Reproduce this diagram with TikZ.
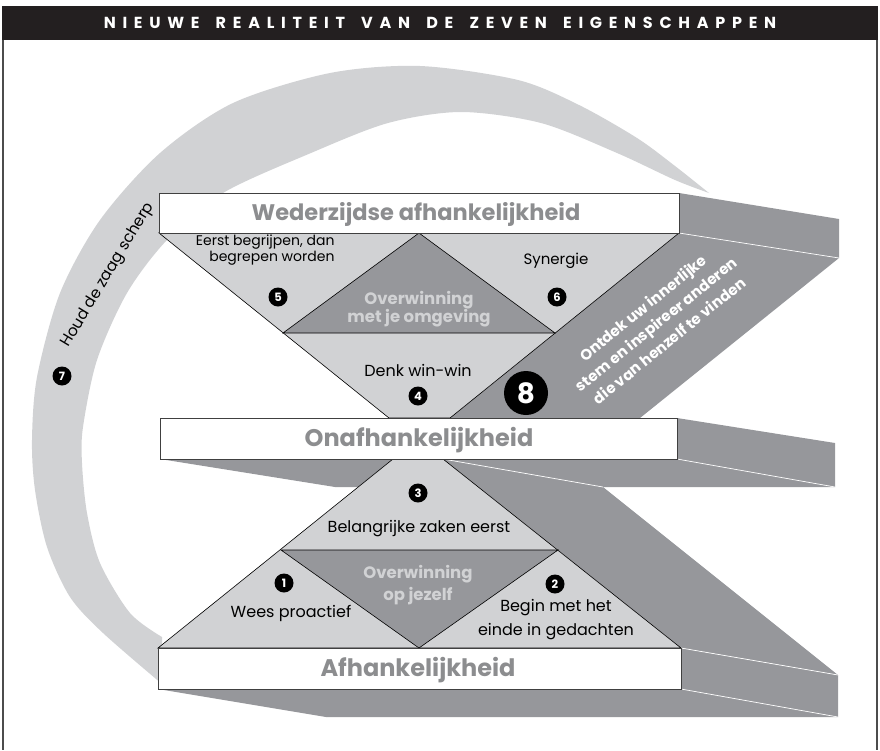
\documentclass[tikz,border=0pt]{standalone}
\usepackage{fontspec}
\setmainfont{Poppins}
\newfontfamily\kopfont[LetterSpace=42,WordSpace=1.6]{Poppins}
\definecolor{lichtgrijs}{HTML}{D1D2D4}
\definecolor{donkergrijs}{HTML}{96979B}
\definecolor{titelgrijs}{HTML}{8C8D8F}
\definecolor{kopzwart}{HTML}{231F20}
\tikzset{
  balk/.style={draw=black!75,line width=1pt,fill=white},
  vlak/.style={fill=donkergrijs},
  licht/.style={fill=lichtgrijs,draw=black,line width=0.6pt},
  donker/.style={fill=donkergrijs,draw=black,line width=0.6pt},
  kant/.style={draw=white,line width=0.7pt},
  nr/.style={circle,fill=black,text=white,inner sep=0pt,minimum size=19pt,font=\bfseries\fontsize{11.5}{11.5}\selectfont},
  titel/.style={anchor=base,text=titelgrijs,font=\bfseries\fontsize{24}{24}\selectfont},
  klein/.style={font=\fontsize{14}{16}\selectfont},
  groot/.style={font=\fontsize{16}{24}\selectfont,align=center},
  winst/.style={text=lichtgrijs,font=\bfseries\fontsize{16.5}{18}\selectfont,align=center},
}

\begin{document}
\begin{tikzpicture}[x=1pt,y=-1pt]
    \useasboundingbox (0,0) rectangle (880,750);
    % kader en kop
    \draw[black!70,line width=1.2pt] (3,6) -- (3,750);
    \draw[black!70,line width=1.2pt] (877,6) -- (877,750);
    \fill[kopzwart] (2,6) rectangle (878,40);
    \node[text=white,font=\kopfont\bfseries\fontsize{16}{16}\selectfont] (kop) at (440,23) {NIEUWE REALITEIT VAN DE ZEVEN EIGENSCHAPPEN};

    % boog
    \fill[lichtgrijs] plot[smooth] coordinates {(162,684) (103,633) (70,597) (47,547) (35,490) (32,440) (37,377) (60,293) (100,220) (160,153) (233,103) (330,73) (420,66) (518,80) (579,105) (637,138) (675,166) (709,193)}
        -- plot[smooth] coordinates {(709,193) (675,180) (617,153) (541,123) (461,112) (388,123) (311,153) (223,193) (167,240) (127,293) (97,360) (83,427) (82,463) (87,513) (100,563) (130,613) (162,637)} -- cycle;

    % zijvlakken
    \fill[vlak] (679,193) -- (839,219) -- (839,258) -- (640,418) -- (450,418) -- (679,233) -- cycle;
    \fill[vlak] (160,459) -- (677,418) -- (835,443) -- (835,487) -- (335,487) -- cycle;
    \fill[vlak] (443,459) -- (603,487) -- (838,675) -- (681,648) -- cycle;
    \fill[vlak] (158,689) -- (681,648) -- (838,675) -- (838,717) -- (326,717) -- cycle;
    \draw[kant] (679,233) -- (839,258);
    \draw[kant] (677,459) -- (835,487);
    \draw[kant] (443,459) -- (603,487);
    \draw[kant] (681,648) -- (838,675);
    \draw[kant] (681,689) -- (838,717);

    % driehoeken
    \draw[licht] (159,233) -- (679,233) -- (450,418) -- (389,418) -- cycle;
    \draw[donker] (419,233) -- (555,333) -- (283,333) -- cycle;
    \draw[licht] (158,648) -- (681,648) -- (443,459) -- (393,459) -- cycle;
    \draw[donker] (281,550) -- (558,550) -- (419,648) -- cycle;

    % balken
    \draw[balk] (159,193) rectangle (679,233);
    \draw[balk] (160,418) rectangle (677,459);
    \draw[balk] (158,648) rectangle (681,689);
    \node[titel,font=\bfseries\fontsize{22.5}{22.5}\selectfont] (wederzijds) at (416,220) {Wederzijdse afhankelijkheid};
    \node[titel] (onafh) at (419,446) {Onafhankelijkheid};
    \node[titel] (afh) at (418,676) {Afhankelijkheid};

    % bovenste deel
    \node[klein,align=right,anchor=east] (begrijpen) at (338,250) {Eerst begrijpen, dan\\begrepen worden};
    \node[klein,font=\fontsize{15}{15}\selectfont] (synergie) at (556,261) {Synergie};
    \node[nr] (n5) at (278,297) {5};
    \node[nr] (n6) at (557,297) {6};
    \node[winst] (omgeving) at (419,309) {Overwinning\\met je omgeving};
    \node[groot] (winwin) at (418,370) {Denk win-win};
    \node[nr] (n4) at (418,396) {4};

    % achtste eigenschap
    \node[circle,fill=black,text=white,inner sep=0pt,minimum size=44pt,font=\bfseries\fontsize{28}{28}\selectfont] (n8) at (526,393) {8};
    \node[text=white,align=center,rotate=39,font=\bfseries\fontsize{15}{21}\selectfont] (stem) at (656,324) {Ontdek uw innerlijke\\stem en inspireer anderen\\die van henzelf te vinden};

    % onderste deel
    \node[nr] (n3) at (418,493) {3};
    \node[groot] (zaken) at (419,529) {Belangrijke zaken eerst};
    \node[winst,font=\bfseries\fontsize{16.5}{22}\selectfont] (jezelf) at (418,585) {Overwinning\\op jezelf};
    \node[nr] (n1) at (284,583) {1};
    \node[groot] (proactief) at (291,613) {Wees proactief};
    \node[nr] (n2) at (555,584) {2};
    \node[groot] (einde) at (556,620) {Begin met het\\einde in gedachten};

    % boog tekst
    \node[nr] (n7) at (62,376) {7};
    \node[rotate=59,font=\fontsize{15.5}{15.5}\selectfont] (zaag) at (108,275) {Houd de zaag scherp};
\end{tikzpicture}
\end{document}
